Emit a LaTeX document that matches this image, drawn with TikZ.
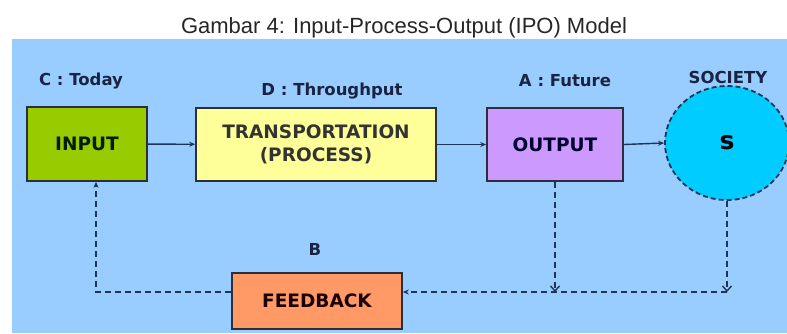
\documentclass[tikz,border=0pt]{standalone}
\usepackage{fontspec}
\setmainfont{Liberation Sans}
\newfontfamily\dvs{DejaVu Sans}
\usetikzlibrary{arrows.meta,shapes.geometric}
\definecolor{bgblue}{HTML}{99CCFF}
\definecolor{ingreen}{HTML}{99CC00}
\definecolor{procyellow}{HTML}{FFFF99}
\definecolor{outpurple}{HTML}{CC99FF}
\definecolor{soccyan}{HTML}{00CCFF}
\definecolor{fborange}{HTML}{FF9966}
\definecolor{linenavy}{HTML}{1F3556}
\definecolor{labnavy}{HTML}{1A2440}
\definecolor{boxline}{HTML}{2E2E3A}
\tikzset{
  box/.style={draw=boxline, line width=1.6pt, inner sep=0pt, align=center,
    font=\dvs\bfseries\fontsize{18.5}{23}\selectfont},
  lab/.style={inner sep=0pt, text=labnavy, font=\dvs\bfseries\fontsize{16.5}{19}\selectfont},
  solidarrow/.style={draw=linenavy, line width=1.4pt, -{Stealth[length=6pt,width=5pt]}},
  dasharrow/.style={draw=linenavy, line width=1.8pt, dash pattern=on 6pt off 4pt},
  barb/.style={-{Straight Barb[length=5pt,width=9pt,line width=1.4pt]}},
  smalltip/.style={-{Stealth[length=6pt,width=5pt]}}
}
\begin{document}
\begin{tikzpicture}[x=1pt,y=-1pt]
\useasboundingbox (0,0) rectangle (787,333);
\fill[white] (0,0) rectangle (787,333);
\fill[bgblue] (12,39) rectangle (787,333);
\node[inner sep=0pt, anchor=base, text=black!85, font=\fontsize{22}{24}\selectfont] (title) at (404,33) {Gambar 4: Input-Process-Output (IPO) Model};

\node[box, fill=ingreen, text={black!80!green!60!black}, minimum width=120pt, minimum height=74pt] (input) at (87,144) {INPUT};
\node[box, fill=procyellow, text=black!80, minimum width=240pt, minimum height=73pt] (proc) at (316,144.5) {TRANSPORTATION\\(PROCESS)};
\node[box, fill=outpurple, text={black!70!blue!60!black}, minimum width=136pt, minimum height=73pt] (output) at (555,144.5) {OUTPUT};
\node[ellipse, draw=linenavy, line width=1.8pt, dash pattern=on 5pt off 3pt, fill=soccyan, inner sep=0pt, minimum width=124pt, minimum height=114pt, text=black, font=\dvs\bfseries\fontsize{25}{27}\selectfont] (soc) at (727,143) {s};
\node[box, fill=fborange, text={black!80!red!50!black}, minimum width=170pt, minimum height=56pt] (fb) at (317,301) {FEEDBACK};

\node[lab] (lc) at (81,81) {C : Today};
\node[lab] (ld) at (332,91) {D : Throughput};
\node[lab] (la) at (565,81) {A : Future};
\node[lab] (ls) at (728,77) {SOCIETY};
\node[lab] (lb) at (315,249) {B};

\draw[solidarrow] (input) -- (proc);
\draw[solidarrow] (proc) -- (output);
\draw[solidarrow] (output.east) -- (soc.west);

\coordinate (j1) at (555,292);
\coordinate (j2) at (727,292);
\coordinate (c3) at (96,292);
\draw[dasharrow, barb] (output.south) -- (j1);
\draw[dasharrow, barb] (soc.south) -- (j2);
\draw[dasharrow, smalltip] (j2) -- (fb.east |- j2);
\draw[dasharrow, smalltip] (fb.west |- c3) -- (c3) -- (input.south -| c3);
\end{tikzpicture}
\end{document}
